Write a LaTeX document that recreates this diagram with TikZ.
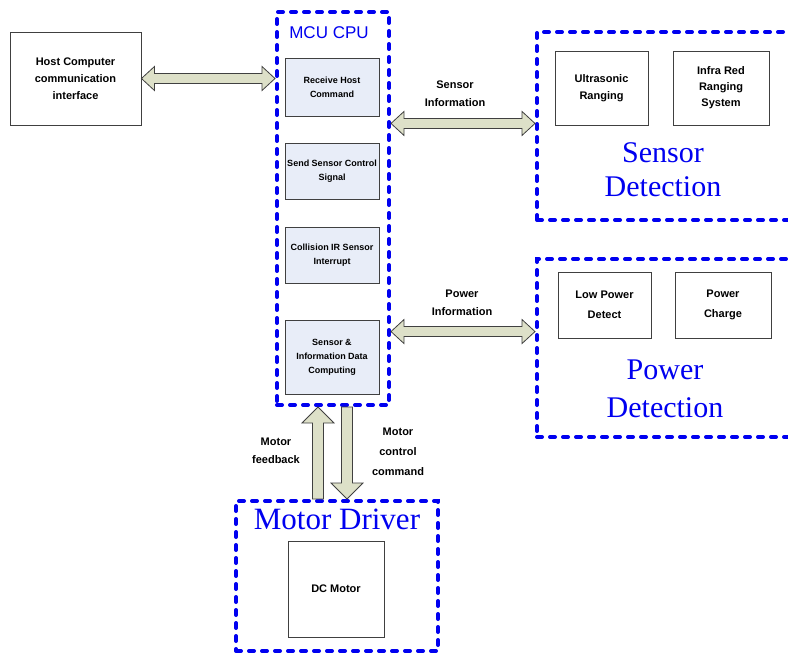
\documentclass[tikz,border=0pt]{standalone}
\usepackage{fontspec}
\usetikzlibrary{calc}
\newfontfamily\lsans{Liberation Sans}
\newfontfamily\lserif{Liberation Serif}
\definecolor{cpufill}{HTML}{E8EDF8}
\definecolor{arrfill}{HTML}{DDE0C8}
\definecolor{edgegray}{HTML}{404040}
\definecolor{dblue}{HTML}{0000F0}
\tikzset{
  box/.style={draw=edgegray, line width=0.9pt, fill=white, inner sep=0pt, align=center,
    font=\lsans\bfseries\fontsize{11}{17}\selectfont},
  cpubox/.style={box, fill=cpufill, font=\lsans\bfseries\fontsize{9}{14}\selectfont},
  group/.style={draw=dblue, line width=4pt, dash pattern=on 5pt off 8pt, line cap=round, inner sep=0pt},
  bigtxt/.style={text=dblue, font=\lserif\fontsize{30}{36}\selectfont, align=center, inner sep=0pt},
  lbl/.style={font=\lsans\bfseries\fontsize{11}{18}\selectfont, align=center, inner sep=0pt},
  blockarrow/.style={draw=edgegray, line width=0.8pt, fill=arrfill, line join=miter},
}
% horizontal double block arrow between two points, at the y of the first
\newcommand{\hdbl}[2]{%
  \draw[blockarrow] let \p1=(#1), \p2=(#2) in
    (\x1,\y1) -- (\x1+13pt,\y1+12pt) -- (\x1+13pt,\y1+5pt) -- (\x2-13pt,\y1+5pt)
    -- (\x2-13pt,\y1+12pt) -- (\x2,\y1) -- (\x2-13pt,\y1-12pt) -- (\x2-13pt,\y1-5pt)
    -- (\x1+13pt,\y1-5pt) -- (\x1+13pt,\y1-12pt) -- cycle;}
% vertical up block arrow: tail #1 (below), tip #2 (above)
\newcommand{\vup}[2]{%
  \draw[blockarrow] let \p1=(#1), \p2=(#2) in
    (\x1-5.5pt,\y1) -- (\x1-5.5pt,\y2-16pt) -- (\x1-16pt,\y2-16pt) -- (\x1,\y2)
    -- (\x1+16pt,\y2-16pt) -- (\x1+5.5pt,\y2-16pt) -- (\x1+5.5pt,\y1) -- cycle;}
% vertical down block arrow: tail #1 (above), tip #2 (below)
\newcommand{\vdown}[2]{%
  \draw[blockarrow] let \p1=(#1), \p2=(#2) in
    (\x1-5.5pt,\y1) -- (\x1-5.5pt,\y2+16pt) -- (\x1-16pt,\y2+16pt) -- (\x1,\y2)
    -- (\x1+16pt,\y2+16pt) -- (\x1+5.5pt,\y2+16pt) -- (\x1+5.5pt,\y1) -- cycle;}
\begin{document}
\begin{tikzpicture}[x=1pt,y=-1pt]
\useasboundingbox[fill=white] (0,0) rectangle (788,653);

% host
\node[box, minimum width=131pt, minimum height=93pt] (host) at (75.5,78.5)
  {Host Computer\\communication\\interface};

% CPU group
\node[group, minimum width=112pt, minimum height=393pt] (cpu) at (333,208.5) {};
\node[text=dblue, font=\lsans\fontsize{17}{20}\selectfont, inner sep=0pt] (cputitle) at (329,33) {MCU CPU};
\node[cpubox, minimum width=94pt, minimum height=58pt] (c1) at (332,87) {Receive Host\\Command};
\node[cpubox, minimum width=94pt, minimum height=56pt] (c2) at (332,171) {Send Sensor Control\\Signal};
\node[cpubox, minimum width=94pt, minimum height=56pt] (c3) at (332,255) {Collision IR Sensor\\Interrupt};
\node[cpubox, minimum width=94pt, minimum height=74pt] (c4) at (332,357) {Sensor \&\\Information Data\\Computing};

% Sensor group
\node[group, minimum width=263pt, minimum height=188pt] (sensor) at (668.5,126) {};
\node[box, minimum width=93pt, minimum height=74pt] (ultra) at (601.5,88) {Ultrasonic\\Ranging};
\node[box, minimum width=96pt, minimum height=74pt, font=\lsans\bfseries\fontsize{11}{16}\selectfont] (infra) at (721,88) {Infra Red\\Ranging\\System};
\node[bigtxt] (sensortxt) at (663,170) {Sensor\\[-2pt]Detection};

% Power group
\node[group, minimum width=263pt, minimum height=178pt] (power) at (668.5,348) {};
\node[box, minimum width=93pt, minimum height=66pt, font=\lsans\bfseries\fontsize{11}{20}\selectfont] (lowp) at (604.5,305) {Low Power\\Detect};
\node[box, minimum width=96pt, minimum height=66pt, font=\lsans\bfseries\fontsize{11}{20}\selectfont] (pcharge) at (723,305) {Power\\Charge};
\node[bigtxt] (powertxt) at (665,389) {Power\\[2pt]Detection};

% Motor group
\node[group, minimum width=202pt, minimum height=150pt] (motor) at (337,576) {};
\node[bigtxt, font=\lserif\fontsize{31}{36}\selectfont] (motortxt) at (337,519) {Motor Driver};
\node[box, minimum width=96pt, minimum height=96pt] (dc) at (336,589) {DC Motor};

% connectors
\coordinate (hostR) at (host.east);
\coordinate (cpuL) at (cpu.west |- host.east);
\hdbl{hostR}{cpuL}

\coordinate (sensL) at ($(cpu.east |- c1.south)+(0,7)$);
\hdbl{sensL}{sensor.west}

\coordinate (powL) at ($(cpu.east |- c4.north)+(0,12)$);
\hdbl{powL}{power.west}

\coordinate (upTip) at ($(cpu.south)+(-15,0)$);
\coordinate (upTail) at (upTip |- motor.north);
\vup{upTail}{upTip}

\coordinate (dnTail) at ($(cpu.south)+(14,0)$);
\coordinate (dnTip) at (dnTail |- motor.north);
\vdown{dnTail}{dnTip}

% labels
\node[lbl] (sensinfo) at (455,94) {Sensor\\Information};
\node[lbl] (powinfo) at (462,303) {Power\\Information};
\node[lbl] (mfb) at (276,451) {Motor\\feedback};
\node[lbl, font=\lsans\bfseries\fontsize{11}{20}\selectfont] (mcc) at (398,452) {Motor\\control\\command};
\end{tikzpicture}
\end{document}
